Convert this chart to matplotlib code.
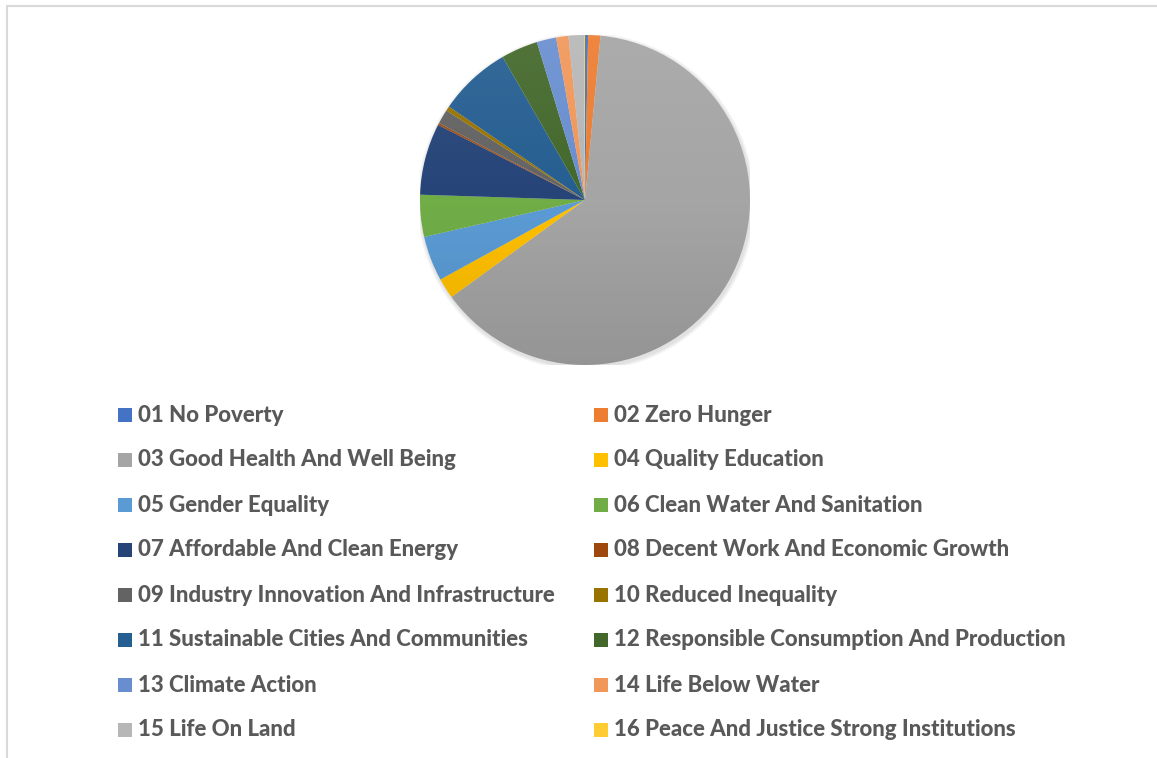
import numpy as np
import matplotlib
matplotlib.use("Agg")
import matplotlib.pyplot as plt
from matplotlib.patches import Circle, Rectangle

labels = ["01 No Poverty", "02 Zero Hunger", "03 Good Health And Well Being",
          "04 Quality Education", "05 Gender Equality", "06 Clean Water And Sanitation",
          "07 Affordable And Clean Energy", "08 Decent Work And Economic Growth",
          "09 Industry Innovation And Infrastructure", "10 Reduced Inequality",
          "11 Sustainable Cities And Communities", "12 Responsible Consumption And Production",
          "13 Climate Action", "14 Life Below Water", "15 Life On Land",
          "16 Peace And Justice Strong Institutions"]
shares = [0.3, 1.2, 63.4, 2.0, 4.4, 4.1, 7.0, 0.2, 1.4, 0.45, 7.1, 3.6, 1.9, 1.2, 1.5, 0.1]
colors = ["#4472C4", "#ED7D31", "#A5A5A5", "#FFC000", "#5B9BD5", "#70AD47",
          "#264478", "#9E480E", "#636363", "#997300", "#255E91", "#43682B",
          "#698ED0", "#F1975A", "#B7B7B7", "#FFCD33"]

W, H = 1157, 758
fig = plt.figure(figsize=(W / 100, H / 100), dpi=100)

# light frame like the excel chart area
fig.add_artist(Rectangle((7 / W, -0.01), 1.2, (H - 6) / H + 0.01, transform=fig.transFigure,
                         fill=False, edgecolor="#d9d9d9", linewidth=1.5))

cx, cy, r = 585, 200, 165
ax = fig.add_axes([(cx - r) / W, (H - cy - r) / H, 2 * r / W, 2 * r / H])
ax.set_xlim(-1, 1)
ax.set_ylim(-1, 1)
ax.set_aspect("equal")
ax.axis("off")

# soft shadow
for k in range(3):
    ax.add_patch(Circle((0.006, -0.012), 1.0 + 0.008 * (k + 1), color="black", alpha=0.04,
                        linewidth=0, zorder=0))

wedges, _ = ax.pie(shares, colors=colors, startangle=90, counterclock=False, radius=1,
                   wedgeprops=dict(linewidth=0), normalize=True)
for w in wedges:
    w.set_zorder(1)

# vertical shading over the pie (lighter top, darker bottom)
g = np.linspace(0, 1, 256)
img = np.zeros((256, 2, 4))
top = g < 0.5
img[top, :, :3] = 1.0
img[top, :, 3] = ((0.5 - g[top]) * 0.16)[:, None]
img[~top, :, 3] = ((g[~top] - 0.5) * 0.2)[:, None]
im = ax.imshow(img, extent=(-1, 1, -1, 1), origin="upper", zorder=2, aspect="auto")
im.set_clip_path(Circle((0, 0), 1, transform=ax.transData))
ax.set_xlim(-1, 1)
ax.set_ylim(-1, 1)

# legend laid out in two columns, row-wise like the original
rows_y = [415 + 45 * i for i in range(8)]
col_marker_x = [118, 594]
for i, (lab, col) in enumerate(zip(labels, colors)):
    row, c = divmod(i, 2)
    yy = rows_y[row]
    mx = col_marker_x[c]
    fig.add_artist(Rectangle((mx / W, (H - yy - 7) / H), 14 / W, 14 / H,
                             transform=fig.transFigure, facecolor=col, edgecolor="none"))
    fig.text((mx + 19.5) / W, (H - yy) / H, lab, ha="left", va="center",
             fontsize=16, fontweight=900, color="#595959", family=["Lato", "DejaVu Sans"])

fig.savefig("out.png", dpi=100)
